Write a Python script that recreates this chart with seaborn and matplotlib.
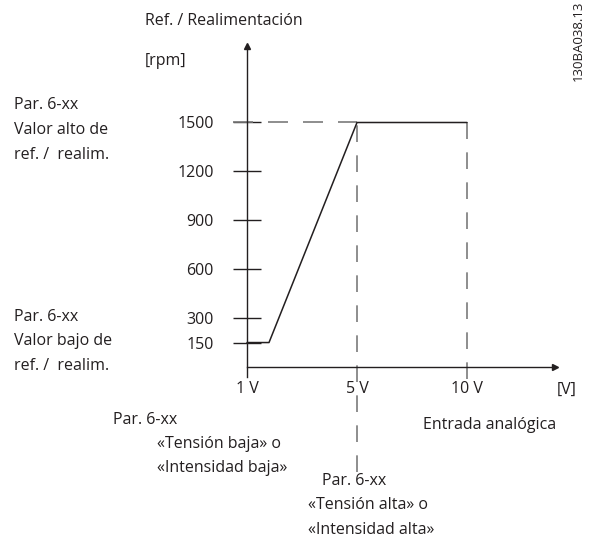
import numpy as np
import pandas as pd
import matplotlib
matplotlib.use("Agg")
import matplotlib.pyplot as plt
import seaborn as sns

# Schematic input positions: 1 V, 5 V, 10 V are equally spaced on the axis
volt_labels = ["1 V", "5 V", "10 V"]
volt_pos = [0, 1, 2]

# Reference / feedback curve (rpm) against input position
curve_x = [0.0, 0.2, 1.0, 2.0]
curve_rpm = [150, 150, 1500, 1500]

rpm_ticks = [150, 300, 600, 900, 1200, 1500]
rpm_low, rpm_high = 150, 1500

W, H = 589, 557
DPI = 100
INK = "#231f20"
DASH = "#7a7a7a"
FS = 11.5

sns.set_theme(style="white")
plt.rcParams["font.family"] = ["Open Sans", "DejaVu Sans"]

fig = plt.figure(figsize=(W / DPI, H / DPI), dpi=DPI)
ax = fig.add_axes([0, 0, 1, 1])

# axes scaling: 110 px per input step, 1500 rpm spans 244.5 px
px_x = 110.0
px_y = 244.5 / 1500.0
x0_px, y0_px = 247.0, 367.0
ax.set_xlim(-x0_px / px_x, (W - x0_px) / px_x)
ax.set_ylim(-(H - y0_px) / px_y, y0_px / px_y)
ax.patch.set_alpha(0)

for s in ["top", "right"]:
    ax.spines[s].set_visible(False)
ax.spines["left"].set_position(("data", 0))
ax.spines["bottom"].set_position(("data", 0))
ax.spines["left"].set_bounds(-10 / px_y, (y0_px - 47) / px_y)
ax.spines["bottom"].set_bounds(0, (555 - x0_px) / px_x)
for s in ["left", "bottom"]:
    ax.spines[s].set_color(INK)
    ax.spines[s].set_linewidth(1.0)

# arrow heads on the axes
ax.plot([0], [(y0_px - 46) / px_y], marker="^", color=INK, markersize=4, clip_on=False)
ax.plot([(555 - x0_px) / px_x], [0], marker=">", color=INK, markersize=4, clip_on=False)

ax.set_yticks(rpm_ticks)
ax.set_yticklabels([str(v) for v in rpm_ticks])
ax.tick_params(axis="y", direction="inout", length=20, width=1.0, colors=INK,
               labelsize=FS, pad=14, left=True)
ax.set_xticks(volt_pos)
ax.set_xticklabels(volt_labels)
ax.tick_params(axis="x", length=0, labelsize=FS, colors=INK, pad=10)
ax.grid(False)

# dashed guides
ax.hlines(rpm_high, -14 / px_x, volt_pos[1], colors=DASH, linestyles=(0, (12, 9)), linewidth=1.2)
ax.vlines(volt_pos[1], -(472 - y0_px) / px_y, rpm_high, colors=DASH,
          linestyles=(0, (10, 8)), linewidth=1.2)
ax.vlines(volt_pos[2], -(379 - y0_px) / px_y, rpm_high, colors=DASH,
          linestyles=(0, (10, 8)), linewidth=1.2)

df = pd.DataFrame({"x": curve_x, "rpm": curve_rpm})
sns.lineplot(data=df, x="x", y="rpm", ax=ax, color=INK, linewidth=1.1,
             sort=False, estimator=None)
ax.set_xlabel("")
ax.set_ylabel("")


def label(x, y, s, ha="left", **kw):
    fig.text(x / W, 1 - y / H, s, ha=ha, va="center", color=INK, fontsize=FS, **kw)


label(145, 21, "Ref. / Realimentación")
label(145, 61, "[rpm]")
label(14, 105, "Par. 6-xx")
label(14, 130, "Valor alto de")
label(14, 155, "ref. /  realim.")
label(14, 317, "Par. 6-xx")
label(14, 341, "Valor bajo de")
label(14, 366, "ref. /  realim.")
label(567, 390, "[V]", ha="center")
label(423, 425, "Entrada analógica")
label(113, 420, "Par. 6-xx")
label(157, 444, "«Tensión baja» o")
label(157, 468, "«Intensidad baja»")
label(322, 481, "Par. 6-xx")
label(308, 505, "«Tensión alta» o")
label(308, 530, "«Intensidad alta»")
fig.text(578 / W, 1 - 41 / H, "130BA038.13", rotation=90, ha="center", va="center",
         color=INK, fontsize=9.5)

fig.savefig("out.png", dpi=DPI, facecolor="white")
